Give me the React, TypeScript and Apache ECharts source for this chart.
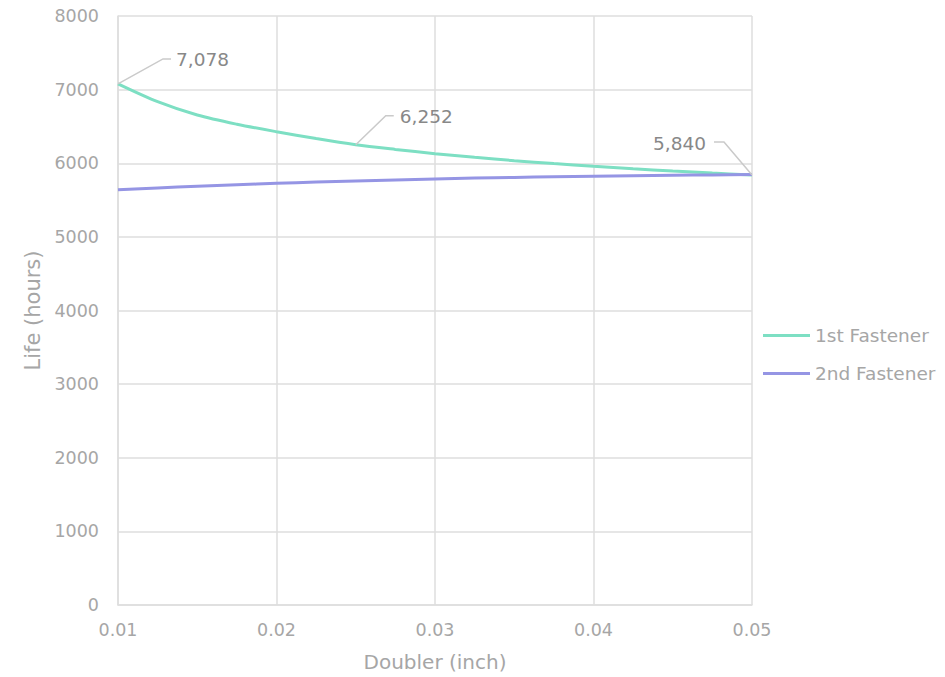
import React, { useEffect, useRef } from "react";
import * as echarts from "echarts";

// Doubler thickness (inch)
const doubler = [
  0.01, 0.0125, 0.015, 0.0175, 0.02, 0.0225, 0.025, 0.0275, 0.03,
  0.0325, 0.035, 0.0375, 0.04, 0.0425, 0.045, 0.0475, 0.05,
];
// Fatigue life (hours) of each fastener row
const firstFastener = [
  7078, 6836, 6655, 6530, 6428, 6335, 6252, 6188, 6130,
  6080, 6035, 5995, 5958, 5925, 5895, 5866, 5840,
];
const secondFastener = [
  5640, 5665, 5688, 5708, 5727, 5744, 5760, 5774, 5787,
  5798, 5808, 5817, 5825, 5831, 5837, 5842, 5846,
];
// Points on the 1st fastener curve that carry a value callout
const calloutIndex = [0, 6, 16];
const yTicks = [0, 1000, 2000, 3000, 4000, 5000, 6000, 7000, 8000];

const FONT = "'DejaVu Sans', 'Liberation Sans', sans-serif";
const TEXT_GREY = "#a6a6a6";
const LABEL_GREY = "#888888";
const GRID_GREY = "#dedede";

// leader geometry for each callout: diagonal offset, horizontal tail, gap to text
const calloutShape: Record<number, { dx: number; dy: number; tail: number; gap: number }> = {
  0: { dx: 45, dy: -25, tail: 8, gap: 5 },
  6: { dx: 30, dy: -29, tail: 8, gap: 6 },
  16: { dx: -28, dy: -33, tail: -10, gap: 8 },
};

export default function App() {
  const ref = useRef<HTMLDivElement>(null);

  useEffect(() => {
    if (!ref.current) return;
    const chart = echarts.init(ref.current, undefined, { renderer: "svg" });

    chart.setOption({
      animation: false,
      backgroundColor: "#ffffff",
      grid: { left: 118, right: 193, top: 16, bottom: 72 },
      legend: {
        orient: "vertical",
        left: 758,
        top: 321,
        padding: 5,
        itemGap: 19,
        itemWidth: 47,
        itemHeight: 3,
        icon: "rect",
        textStyle: { color: TEXT_GREY, fontSize: 18.5, fontFamily: FONT },
        data: ["1st Fastener", "2nd Fastener"],
      },
      xAxis: {
        type: "value",
        min: 0.01,
        max: 0.05,
        interval: 0.01,
        name: "Doubler (inch)",
        nameLocation: "middle",
        nameGap: 47,
        nameTextStyle: { color: TEXT_GREY, fontSize: 20, fontFamily: FONT },
        axisLine: { show: true, lineStyle: { color: GRID_GREY, width: 1.5 } },
        axisTick: { show: false },
        axisLabel: {
          color: TEXT_GREY,
          fontSize: 17.5,
          fontFamily: FONT,
          margin: 16,
          formatter: (v: number) => v.toFixed(2),
        },
        splitLine: { show: true, lineStyle: { color: GRID_GREY, width: 1.5 } },
      },
      yAxis: {
        type: "value",
        min: yTicks[0],
        max: yTicks[yTicks.length - 1],
        interval: 1000,
        name: "Life (hours)",
        nameLocation: "middle",
        nameGap: 73,
        nameTextStyle: { color: TEXT_GREY, fontSize: 21, fontFamily: FONT },
        axisLine: { show: true, lineStyle: { color: GRID_GREY, width: 1.5 } },
        axisTick: { show: false },
        axisLabel: {
          color: TEXT_GREY,
          fontSize: 17.5,
          fontFamily: FONT,
          margin: 19,
          formatter: (v: number) => String(v),
        },
        splitLine: { show: true, lineStyle: { color: GRID_GREY, width: 1.5 } },
      },
      series: [
        {
          name: "1st Fastener",
          type: "line",
          smooth: 0.3,
          showSymbol: false,
          color: "#7ddfc3",
          lineStyle: { width: 3, color: "#7ddfc3" },
          emphasis: { disabled: true },
          data: doubler.map((x, i) => [x, firstFastener[i]]),
          z: 3,
        },
        {
          name: "2nd Fastener",
          type: "line",
          smooth: 0.3,
          showSymbol: false,
          color: "#9595e4",
          lineStyle: { width: 3, color: "#9595e4" },
          emphasis: { disabled: true },
          data: doubler.map((x, i) => [x, secondFastener[i]]),
          z: 4,
        },
      ],
    });

    // value callouts with Excel-style leader lines
    const graphics: any[] = [];
    calloutIndex.forEach((i) => {
      const s = calloutShape[i];
      const p = chart.convertToPixel({ seriesIndex: 0 }, [doubler[i], firstFastener[i]]) as number[];
      const bend = [p[0] + s.dx, p[1] + s.dy];
      const end = [bend[0] + s.tail, bend[1]];
      graphics.push({
        type: "polyline",
        shape: { points: [p, bend, end] },
        style: { stroke: "#cacaca", lineWidth: 1.5, fill: null },
        z: 10,
      });
      graphics.push({
        type: "text",
        x: end[0] + (s.tail > 0 ? s.gap : -s.gap),
        y: end[1] + 1,
        style: {
          text: firstFastener[i].toLocaleString("en-US"),
          fill: LABEL_GREY,
          fontSize: 18.5,
          fontFamily: FONT,
          align: s.tail > 0 ? "left" : "right",
          verticalAlign: "middle",
        },
        z: 10,
      });
    });
    chart.setOption({ graphic: graphics });

    return () => chart.dispose();
  }, []);

  return (
    <div
      ref={ref}
      style={{ position: "fixed", left: 0, top: 0, width: 945, height: 677 }}
    />
  );
}
